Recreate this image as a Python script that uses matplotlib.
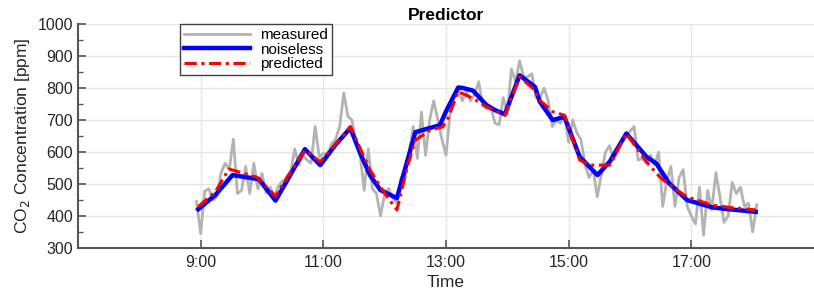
import numpy as np
import matplotlib
matplotlib.use("Agg")
from matplotlib import pyplot as plt
from matplotlib.ticker import MultipleLocator, FixedLocator

plt.rcParams['font.family'] = ['Liberation Sans', 'DejaVu Sans']

# measured CO2, one sample every 4 minutes starting 8:56
measured = [445, 345, 478, 485, 450, 462, 535, 565, 545, 640, 470, 480, 555, 470, 565,
            485, 533, 472, 490, 460, 492, 510, 500, 535, 610, 560, 590, 575, 565, 680,
            585, 595, 590, 625, 640, 680, 785, 712, 700, 630, 590, 480, 610, 485, 470,
            400, 470, 486, 455, 440, 520, 520, 600, 680, 580, 725, 590, 700, 760, 700,
            640, 590, 720, 780, 795, 760, 790, 760, 780, 820, 745, 735, 740, 690, 685,
            770, 720, 860, 820, 885, 835, 835, 845, 770, 770, 800, 760, 680, 700, 690,
            715, 630, 700, 660, 640, 560, 520, 545, 460, 530, 600, 620, 575, 600, 635,
            650, 665, 680, 575, 580, 565, 590, 560, 600, 430, 510, 555, 430, 520, 545,
            430, 400, 375, 490, 340, 480, 420, 535, 460, 380, 400, 505, 470, 490, 430,
            440, 350, 435]
measured_start = 8 + 56 / 60
measured_step = 4 / 60

# noiseless signal (hours, ppm)
noiseless_t = [8.96, 9.24, 9.52, 9.95, 10.22, 10.43, 10.7, 10.95, 11.2, 11.44, 11.6, 11.76,
               11.93, 12.2, 12.5, 12.68, 12.9, 13.01, 13.2, 13.28, 13.44, 13.66, 13.8, 13.96,
               14.2, 14.45, 14.53, 14.74, 14.93, 15.18, 15.47, 15.67, 15.94, 16.27, 16.43,
               16.64, 16.93, 17.34, 17.62, 18.05]
noiseless = [421, 466, 528, 515, 448, 518, 609, 559, 623, 675, 597, 528,
             481, 456, 662, 672, 684, 731, 802, 800, 792, 747, 731, 718,
             840, 804, 757, 700, 710, 585, 528, 570, 658, 585, 564,
             502, 450, 427, 421, 413]

# predicted signal (hours, ppm)
predicted_t = [8.96, 9.24, 9.46, 9.92, 10.22, 10.43, 10.7, 10.95, 11.2, 11.44, 11.6, 11.76,
               11.93, 12.04, 12.2, 12.37, 12.5, 12.74, 12.95, 13.03, 13.2, 13.44, 13.66,
               13.96, 14.2, 14.45, 14.53, 14.74, 14.93, 15.18, 15.34, 15.67, 15.94, 16.27,
               16.48, 16.64, 16.93, 17.34, 17.62, 18.05]
predicted = [429, 476, 547, 521, 462, 528, 605, 570, 625, 680, 612, 545,
             492, 460, 419, 554, 637, 668, 679, 705, 789, 768, 741,
             715, 835, 793, 762, 726, 715, 575, 559, 559, 658, 569,
             523, 497, 460, 434, 427, 419]

xticks = [9, 11, 13, 15, 17]
xticklabels = ['9:00', '11:00', '13:00', '15:00', '17:00']

measured_t = measured_start + measured_step * np.arange(len(measured))

fig = plt.figure(figsize=(8.14, 2.94), dpi=100)
ax = fig.add_axes([0.0958, 0.1565, 0.9042, 0.7615])

ax.plot(measured_t, measured, color='#b3b3b3', lw=2.0, label='measured', zorder=2)
ax.plot(noiseless_t, noiseless, color='#0000ff', lw=3.2, label='noiseless', zorder=3)
ax.plot(predicted_t, predicted, color='#ff0000', lw=2.2, ls=(0, (4, 1.5, 1, 1.5)),
        label='predicted', zorder=4)

ax.set_xlim(7, 19)
ax.set_ylim(300, 1000)
ax.xaxis.set_major_locator(FixedLocator(xticks))
ax.set_xticklabels(xticklabels)
ax.yaxis.set_major_locator(MultipleLocator(100))
ax.yaxis.set_minor_locator(MultipleLocator(50))

ax.grid(True, which='major', color='#e6e6e6', lw=1.0, zorder=0)
ax.set_axisbelow(True)
for s in ['top', 'right']:
    ax.spines[s].set_visible(False)
for s in ['left', 'bottom']:
    ax.spines[s].set_color('#555555')
    ax.spines[s].set_linewidth(1.5)

ax.tick_params(axis='both', which='major', direction='in', length=6, width=1.2,
               color='#555555', labelsize=11.5, labelcolor='#262626')
ax.tick_params(axis='y', which='minor', direction='in', length=3.5, width=1.0, color='#555555')
ax.tick_params(axis='x', pad=5)

ax.set_title('Predictor', fontsize=12.5, fontweight='bold', pad=3)
ax.set_xlabel('Time', fontsize=12.5, color='#262626', labelpad=4)
ax.set_ylabel('CO$_2$ Concentration [ppm]', fontsize=12.5, color='#262626', labelpad=4)

leg = ax.legend(loc='upper left', bbox_to_anchor=(0.1386, 1.0), fontsize=11,
                handlelength=4.3, handletextpad=0.7, borderpad=0.25, labelspacing=0.05,
                fancybox=False, framealpha=1, edgecolor='#404040', borderaxespad=0)
leg.get_frame().set_linewidth(1.0)

fig.savefig('out.png', dpi=100)
